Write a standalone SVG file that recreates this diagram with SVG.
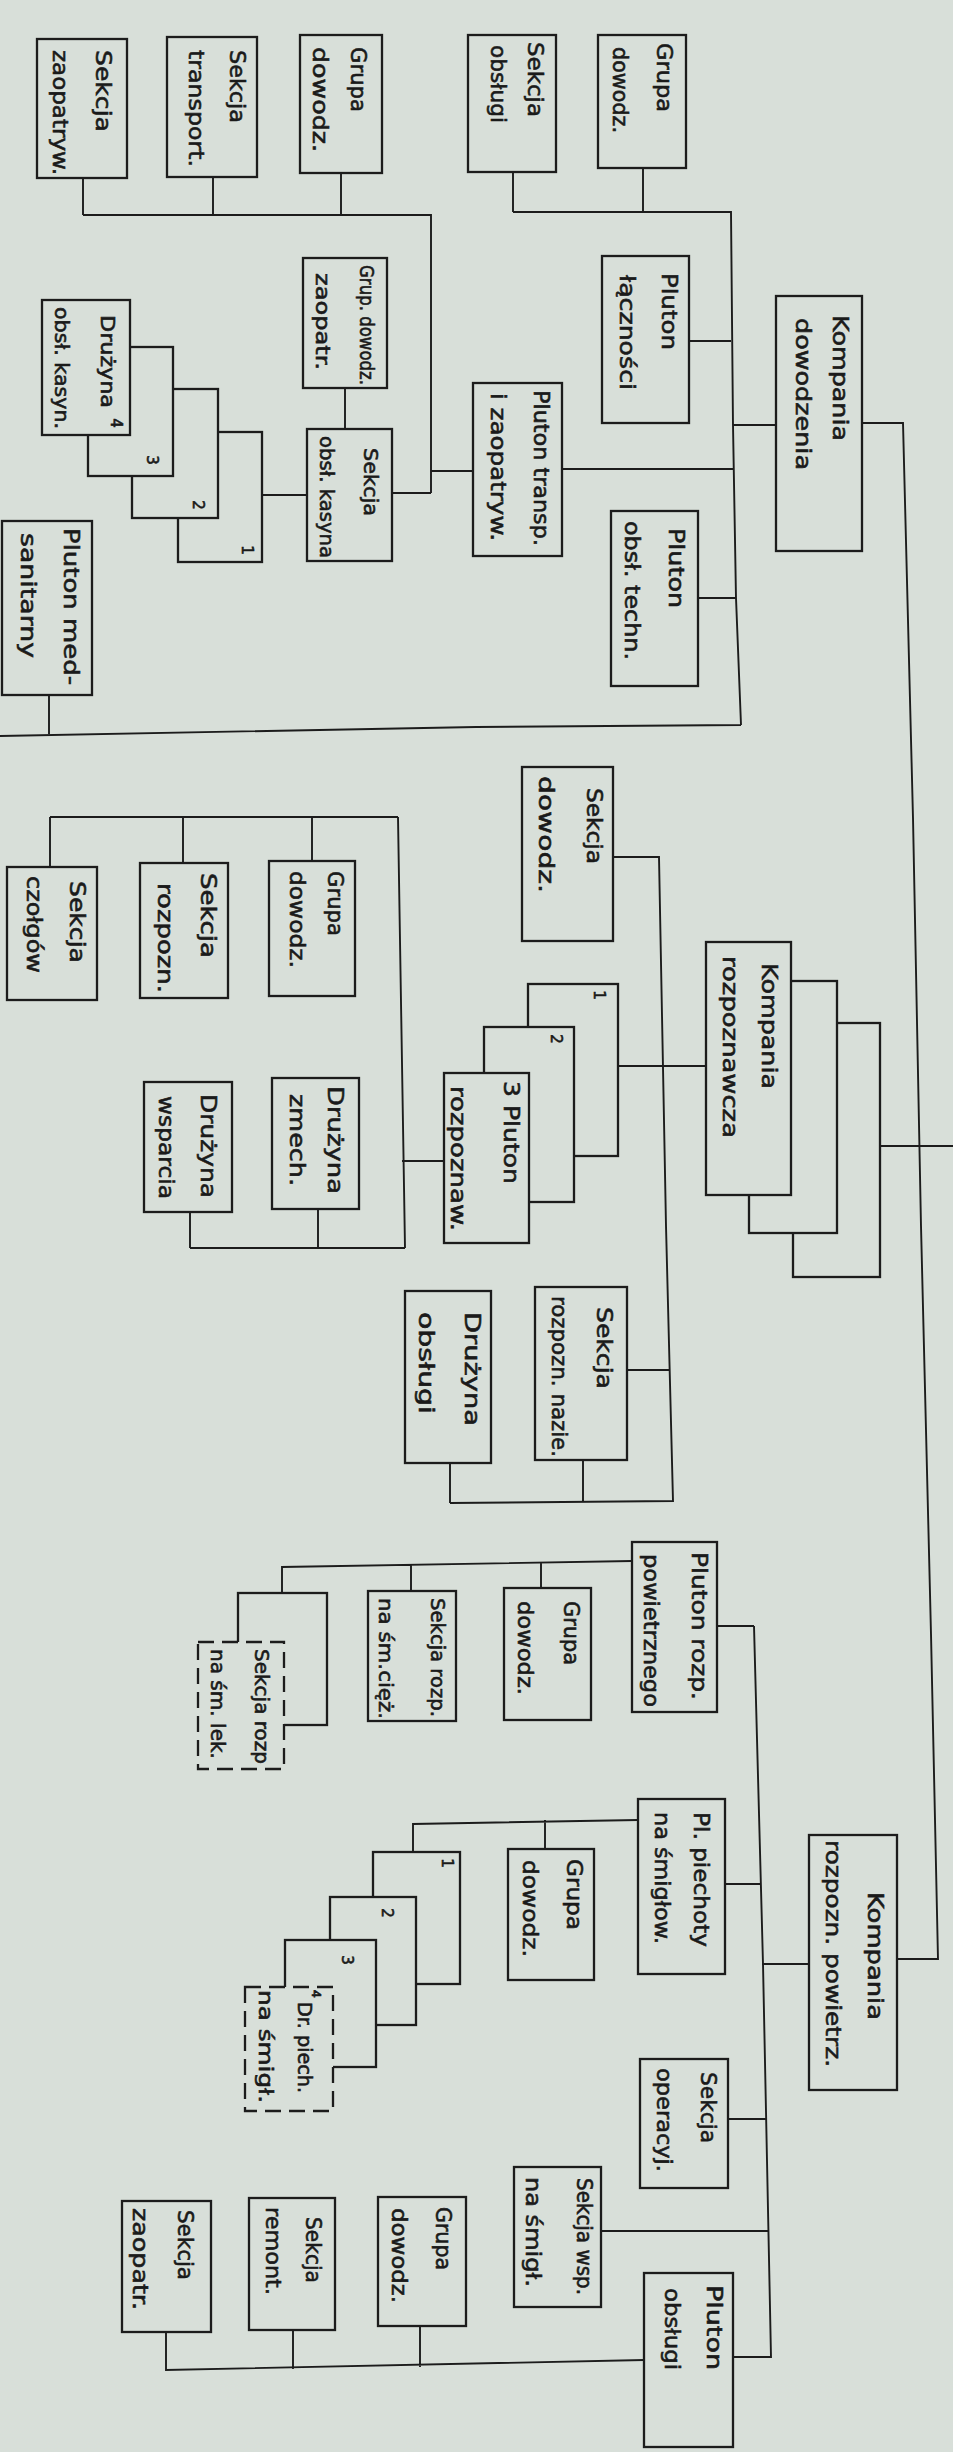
<svg xmlns="http://www.w3.org/2000/svg" width="953" height="2452" viewBox="0 0 953 2452">
<style>
.bg{fill:#d8dfd9}
.box{fill:#d8dfd9;stroke:#1c1c1c;stroke-width:2.3}
.dash{stroke-dasharray:16 8}
.ln{fill:none;stroke:#1c1c1c;stroke-width:1.9;stroke-linejoin:miter}
text{font-family:"DejaVu Sans","Liberation Sans",sans-serif;font-size:22px;fill:#1a1a1a;stroke:#1a1a1a;stroke-width:0.6;dominant-baseline:central}
.s{font-size:19px}
.n{font-size:15px;text-anchor:middle}
</style>
<rect class="bg" x="0" y="0" width="953" height="2452"/>
<g id="connectors">
<path class="ln" d="M83,178 V215 M213,177 V215 M341,173 V215 M83,215 H431 V493 M431,471 H473 M392,493 H431 M345,388 V429 M307,495 H262"/>
<path class="ln" d="M513,172 V212 M643,168 V212 M513,212 H731 L733,425 L736,598 L741,725 M689,341 H731 M733,425 H776 M562,469 H734 M698,598 H736 M741,725 L476,727 L0,736 M49,695 V734"/>
<path class="ln" d="M862,423 H903 L913,818 L921,1226 L931,1634 L938,1959 H897 M880,1146 H953"/>
<path class="ln" d="M613,857 H659 L666,1226 L673,1501 L450,1503 M619,1066 H706 M627,1370 H669 M583,1460 V1501 M450,1463 V1503"/>
<path class="ln" d="M444,1161 H402 M398,817 L405,1248 M50,817 H398 M190,1248 H405 M50,817 V867 M183,817 V863 M312,817 V861 M318,1209 V1248 M190,1212 V1248"/>
<path class="ln" d="M809,1964 H762 M754,1626 L763,1964 L771,2357 H733 M717,1626 H754 M725,1884 H761 M728,2119 H766 M601,2231 H768"/>
<path class="ln" d="M632,1561 L282,1567 V1593 M541,1562 V1588 M411,1565 V1591 M638,1820 L413,1824 V1852 M545,1820 V1849"/>
<path class="ln" d="M644,2360 L166,2370 V2332 M420,2326 V2367 M293,2330 V2369"/>
</g>
<g id="n1"><rect class="box" x="37" y="39" width="90" height="139"/>
<text transform="translate(103,50) rotate(90)" textLength="82" lengthAdjust="spacingAndGlyphs">Sekcja</text>
<text transform="translate(60,50) rotate(90)" textLength="125" lengthAdjust="spacingAndGlyphs">zaopatryw.</text></g>
<g id="n2"><rect class="box" x="167" y="37" width="90" height="140"/>
<text transform="translate(237,50) rotate(90)" textLength="73" lengthAdjust="spacingAndGlyphs">Sekcja</text>
<text transform="translate(196,50) rotate(90)" textLength="117" lengthAdjust="spacingAndGlyphs">transport.</text></g>
<g id="n3"><rect class="box" x="300" y="35" width="82" height="138"/>
<text transform="translate(358,47) rotate(90)" textLength="65" lengthAdjust="spacingAndGlyphs">Grupa</text>
<text transform="translate(320,47) rotate(90)" textLength="105" lengthAdjust="spacingAndGlyphs">dowodz.</text></g>
<g id="n4"><rect class="box" x="468" y="35" width="88" height="137"/>
<text transform="translate(535,42) rotate(90)" textLength="75" lengthAdjust="spacingAndGlyphs">Sekcja</text>
<text transform="translate(498,45) rotate(90)" textLength="78" lengthAdjust="spacingAndGlyphs">obsługi</text></g>
<g id="n5"><rect class="box" x="598" y="35" width="88" height="133"/>
<text transform="translate(664,43) rotate(90)" textLength="69" lengthAdjust="spacingAndGlyphs">Grupa</text>
<text transform="translate(620,47) rotate(90)" textLength="86" lengthAdjust="spacingAndGlyphs">dowodz.</text></g>
<g id="n6"><rect class="box" x="602" y="256" width="87" height="167"/>
<text transform="translate(669,273) rotate(90)" textLength="77" lengthAdjust="spacingAndGlyphs">Pluton</text>
<text transform="translate(627,275) rotate(90)" textLength="115" lengthAdjust="spacingAndGlyphs">łączności</text></g>
<g id="n7"><rect class="box" x="776" y="296" width="86" height="255"/>
<text transform="translate(840,315) rotate(90)" textLength="126" lengthAdjust="spacingAndGlyphs">Kompania</text>
<text transform="translate(803,318) rotate(90)" textLength="152" lengthAdjust="spacingAndGlyphs">dowodzenia</text></g>
<g id="n8"><rect class="box" x="473" y="383" width="89" height="173"/>
<text transform="translate(541,390) rotate(90)" textLength="156" lengthAdjust="spacingAndGlyphs">Pluton transp.</text>
<text transform="translate(498,393) rotate(90)" textLength="148" lengthAdjust="spacingAndGlyphs">i zaopatryw.</text></g>
<g id="n9"><rect class="box" x="611" y="511" width="87" height="175"/>
<text transform="translate(676,528) rotate(90)" textLength="80" lengthAdjust="spacingAndGlyphs">Pluton</text>
<text transform="translate(632,521) rotate(90)" textLength="139" lengthAdjust="spacingAndGlyphs">obsł. techn.</text></g>
<g id="n10"><rect class="box" x="303" y="258" width="84" height="130"/>
<text class="s" transform="translate(367,265) rotate(90)" textLength="120" lengthAdjust="spacingAndGlyphs">Grup. dowodz.</text>
<text class="s" transform="translate(323,273) rotate(90)" textLength="97" lengthAdjust="spacingAndGlyphs">zaopatr.</text></g>
<g id="n11"><rect class="box" x="307" y="429" width="85" height="132"/>
<text class="s" transform="translate(371,448) rotate(90)" textLength="68" lengthAdjust="spacingAndGlyphs">Sekcja</text>
<text class="s" transform="translate(327,436) rotate(90)" textLength="122" lengthAdjust="spacingAndGlyphs">obsł. kasyna</text></g>
<g id="n12"><rect class="box" x="178" y="432" width="84" height="130"/>
<rect class="box" x="132" y="389" width="86" height="129"/>
<rect class="box" x="88" y="347" width="85" height="129"/>
<rect class="box" x="42" y="300" width="88" height="135"/>
<text class="n" transform="translate(247,550) rotate(90)">1</text>
<text class="n" transform="translate(198,505) rotate(90)">2</text>
<text class="n" transform="translate(152,460) rotate(90)">3</text>
<text class="n" transform="translate(116,423) rotate(90)">4</text>
<text class="s" transform="translate(108,315) rotate(90)" textLength="93" lengthAdjust="spacingAndGlyphs">Drużyna</text>
<text class="s" transform="translate(62,307) rotate(90)" textLength="122" lengthAdjust="spacingAndGlyphs">obsł. kasyn.</text></g>
<g id="n13"><rect class="box" x="2" y="521" width="90" height="174"/>
<text transform="translate(71,528) rotate(90)" textLength="157" lengthAdjust="spacingAndGlyphs">Pluton med-</text>
<text transform="translate(28,533) rotate(90)" textLength="125" lengthAdjust="spacingAndGlyphs">sanitarny</text></g>
<g id="n14"><rect class="box" x="522" y="767" width="91" height="174"/>
<text transform="translate(594,788) rotate(90)" textLength="76" lengthAdjust="spacingAndGlyphs">Sekcja</text>
<text transform="translate(546,776) rotate(90)" textLength="117" lengthAdjust="spacingAndGlyphs">dowodz.</text></g>
<g id="n15"><rect class="box" x="793" y="1023" width="87" height="254"/>
<rect class="box" x="749" y="981" width="88" height="252"/>
<rect class="box" x="706" y="942" width="85" height="253"/>
<text transform="translate(769,963) rotate(90)" textLength="126" lengthAdjust="spacingAndGlyphs">Kompania</text>
<text transform="translate(730,956) rotate(90)" textLength="182" lengthAdjust="spacingAndGlyphs">rozpoznawcza</text></g>
<g id="n16"><rect class="box" x="528" y="984" width="90" height="172"/>
<rect class="box" x="484" y="1027" width="90" height="175"/>
<rect class="box" x="444" y="1073" width="85" height="170"/>
<text class="n" transform="translate(599,995) rotate(90)">1</text>
<text class="n" transform="translate(556,1039) rotate(90)">2</text>
<text transform="translate(511,1081) rotate(90)" textLength="103" lengthAdjust="spacingAndGlyphs">3 Pluton</text>
<text transform="translate(458,1086) rotate(90)" textLength="145" lengthAdjust="spacingAndGlyphs">rozpoznaw.</text></g>
<g id="n17"><rect class="box" x="269" y="861" width="86" height="135"/>
<text transform="translate(335,871) rotate(90)" textLength="65" lengthAdjust="spacingAndGlyphs">Grupa</text>
<text transform="translate(297,871) rotate(90)" textLength="97" lengthAdjust="spacingAndGlyphs">dowodz.</text></g>
<g id="n18"><rect class="box" x="140" y="863" width="88" height="135"/>
<text transform="translate(208,873) rotate(90)" textLength="85" lengthAdjust="spacingAndGlyphs">Sekcja</text>
<text transform="translate(165,883) rotate(90)" textLength="110" lengthAdjust="spacingAndGlyphs">rozpozn.</text></g>
<g id="n19"><rect class="box" x="7" y="867" width="90" height="133"/>
<text transform="translate(77,881) rotate(90)" textLength="82" lengthAdjust="spacingAndGlyphs">Sekcja</text>
<text transform="translate(34,876) rotate(90)" textLength="97" lengthAdjust="spacingAndGlyphs">czołgów</text></g>
<g id="n20"><rect class="box" x="272" y="1078" width="87" height="131"/>
<text transform="translate(335,1086) rotate(90)" textLength="108" lengthAdjust="spacingAndGlyphs">Drużyna</text>
<text transform="translate(297,1094) rotate(90)" textLength="92" lengthAdjust="spacingAndGlyphs">zmech.</text></g>
<g id="n21"><rect class="box" x="144" y="1082" width="88" height="130"/>
<text transform="translate(208,1094) rotate(90)" textLength="104" lengthAdjust="spacingAndGlyphs">Drużyna</text>
<text transform="translate(166,1096) rotate(90)" textLength="103" lengthAdjust="spacingAndGlyphs">wsparcia</text></g>
<g id="n22"><rect class="box" x="535" y="1287" width="92" height="173"/>
<text transform="translate(604,1307) rotate(90)" textLength="82" lengthAdjust="spacingAndGlyphs">Sekcja</text>
<text transform="translate(559,1296) rotate(90)" textLength="161" lengthAdjust="spacingAndGlyphs">rozpozn. nazie.</text></g>
<g id="n23"><rect class="box" x="405" y="1291" width="86" height="172"/>
<text transform="translate(472,1312) rotate(90)" textLength="114" lengthAdjust="spacingAndGlyphs">Drużyna</text>
<text transform="translate(426,1312) rotate(90)" textLength="102" lengthAdjust="spacingAndGlyphs">obsługi</text></g>
<g id="n24"><rect class="box" x="632" y="1542" width="85" height="170"/>
<text transform="translate(699,1552) rotate(90)" textLength="148" lengthAdjust="spacingAndGlyphs">Pluton rozp.</text>
<text transform="translate(651,1554) rotate(90)" textLength="153" lengthAdjust="spacingAndGlyphs">powietrznego</text></g>
<g id="n25"><rect class="box" x="504" y="1588" width="87" height="132"/>
<text transform="translate(571,1601) rotate(90)" textLength="64" lengthAdjust="spacingAndGlyphs">Grupa</text>
<text transform="translate(525,1601) rotate(90)" textLength="94" lengthAdjust="spacingAndGlyphs">dowodz.</text></g>
<g id="n26"><rect class="box" x="368" y="1591" width="88" height="130"/>
<text class="s" transform="translate(438,1598) rotate(90)" textLength="119" lengthAdjust="spacingAndGlyphs">Sekcja rozp.</text>
<text class="s" transform="translate(386,1598) rotate(90)" textLength="121" lengthAdjust="spacingAndGlyphs">na śm.cięż.</text></g>
<g id="n27"><rect class="box" x="238" y="1593" width="89" height="132"/>
<rect class="box dash" x="198" y="1642" width="86" height="127"/>
<text class="s" transform="translate(262,1649) rotate(90)" textLength="115" lengthAdjust="spacingAndGlyphs">Sekcja rozp</text>
<text class="s" transform="translate(218,1649) rotate(90)" textLength="110" lengthAdjust="spacingAndGlyphs">na śm. lek.</text></g>
<g id="n28"><rect class="box" x="638" y="1799" width="87" height="175"/>
<text transform="translate(701,1812) rotate(90)" textLength="135" lengthAdjust="spacingAndGlyphs">Pl. piechoty</text>
<text transform="translate(662,1812) rotate(90)" textLength="132" lengthAdjust="spacingAndGlyphs">na śmigłow.</text></g>
<g id="n29"><rect class="box" x="508" y="1849" width="86" height="131"/>
<text transform="translate(574,1859) rotate(90)" textLength="71" lengthAdjust="spacingAndGlyphs">Grupa</text>
<text transform="translate(530,1860) rotate(90)" textLength="97" lengthAdjust="spacingAndGlyphs">dowodz.</text></g>
<g id="n30"><rect class="box" x="809" y="1835" width="88" height="255"/>
<text transform="translate(875,1892) rotate(90)" textLength="128" lengthAdjust="spacingAndGlyphs">Kompania</text>
<text transform="translate(833,1840) rotate(90)" textLength="227" lengthAdjust="spacingAndGlyphs">rozpozn. powietrz.</text></g>
<g id="n31"><rect class="box" x="373" y="1852" width="87" height="132"/>
<rect class="box" x="330" y="1897" width="86" height="128"/>
<rect class="box" x="285" y="1940" width="91" height="127"/>
<rect class="box dash" x="245" y="1987" width="88" height="124"/>
<text class="n" transform="translate(447,1863) rotate(90)">1</text>
<text class="n" transform="translate(387,1913) rotate(90)">2</text>
<text class="n" transform="translate(347,1960) rotate(90)">3</text>
<text class="n" transform="translate(316,1994) rotate(90)" style="font-size:13px">4</text>
<text class="s" transform="translate(305,2002) rotate(90)" textLength="91" lengthAdjust="spacingAndGlyphs">Dr. piech.</text>
<text class="s" transform="translate(266,1990) rotate(90)" textLength="113" lengthAdjust="spacingAndGlyphs">na śmigł.</text></g>
<g id="n32"><rect class="box" x="640" y="2059" width="88" height="129"/>
<text transform="translate(708,2072) rotate(90)" textLength="71" lengthAdjust="spacingAndGlyphs">Sekcja</text>
<text transform="translate(664,2068) rotate(90)" textLength="104" lengthAdjust="spacingAndGlyphs">operacyj.</text></g>
<g id="n33"><rect class="box" x="514" y="2167" width="87" height="140"/>
<text transform="translate(584,2178) rotate(90)" textLength="117" lengthAdjust="spacingAndGlyphs">Sekcja wsp.</text>
<text transform="translate(533,2177) rotate(90)" textLength="110" lengthAdjust="spacingAndGlyphs">na śmigł.</text></g>
<g id="n34"><rect class="box" x="644" y="2273" width="89" height="174"/>
<text transform="translate(714,2285) rotate(90)" textLength="85" lengthAdjust="spacingAndGlyphs">Pluton</text>
<text transform="translate(672,2288) rotate(90)" textLength="82" lengthAdjust="spacingAndGlyphs">obsługi</text></g>
<g id="n35"><rect class="box" x="378" y="2197" width="88" height="129"/>
<text transform="translate(443,2207) rotate(90)" textLength="63" lengthAdjust="spacingAndGlyphs">Grupa</text>
<text transform="translate(399,2208) rotate(90)" textLength="95" lengthAdjust="spacingAndGlyphs">dowodz.</text></g>
<g id="n36"><rect class="box" x="249" y="2198" width="86" height="132"/>
<text transform="translate(313,2217) rotate(90)" textLength="66" lengthAdjust="spacingAndGlyphs">Sekcja</text>
<text transform="translate(273,2207) rotate(90)" textLength="88" lengthAdjust="spacingAndGlyphs">remont.</text></g>
<g id="n37"><rect class="box" x="122" y="2201" width="89" height="131"/>
<text transform="translate(185,2210) rotate(90)" textLength="70" lengthAdjust="spacingAndGlyphs">Sekcja</text>
<text transform="translate(140,2208) rotate(90)" textLength="102" lengthAdjust="spacingAndGlyphs">zaopatr.</text></g>
</svg>
